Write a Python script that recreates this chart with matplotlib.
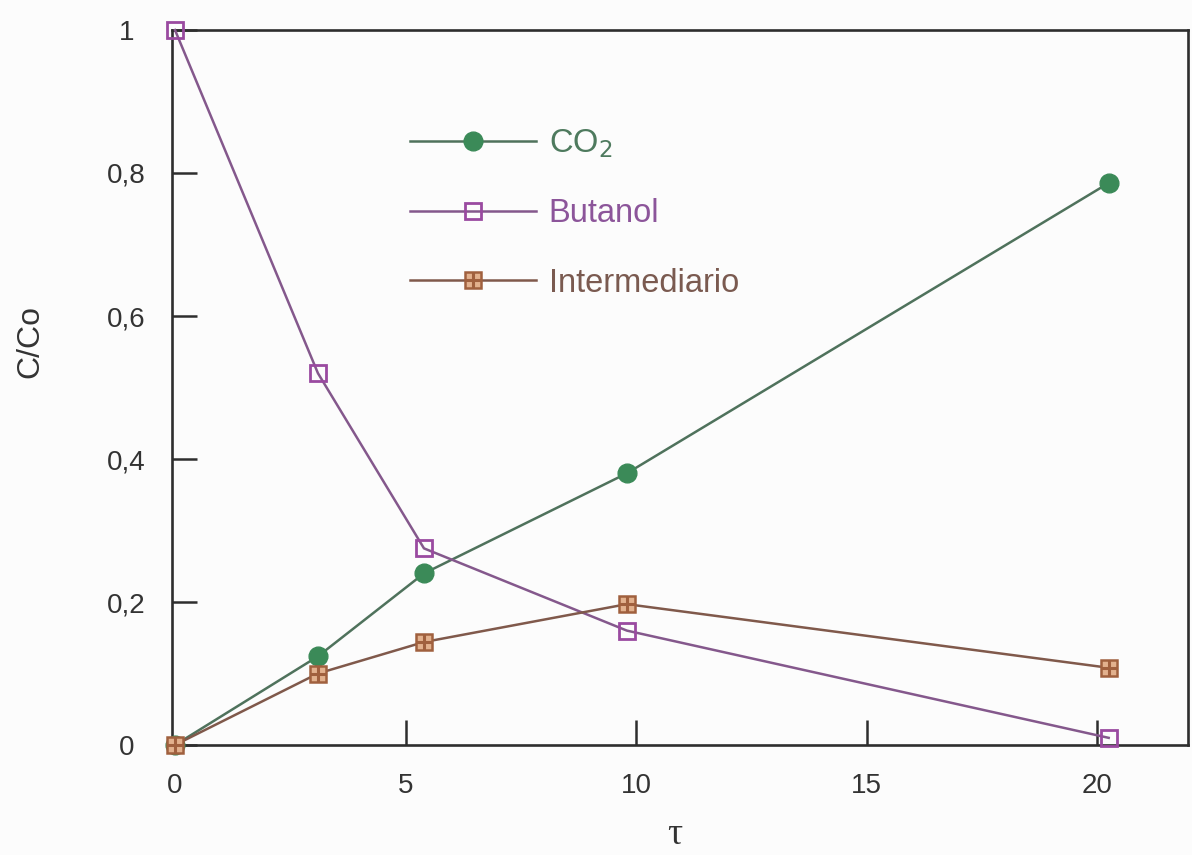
import matplotlib
matplotlib.use("Agg")
import matplotlib.pyplot as plt
from matplotlib.legend_handler import HandlerTuple

# Residence time (tau) and normalised concentrations C/Co
tau = [0.0, 3.1, 5.4, 9.8, 20.25]
co2 = [0.0, 0.124, 0.24, 0.38, 0.786]
butanol = [1.0, 0.52, 0.275, 0.16, 0.01]
intermediario = [0.0, 0.10, 0.144, 0.197, 0.108]

labels = ["CO$_2$", "Butanol", "Intermediario"]
x_ticks = [0, 5, 10, 15, 20]
y_ticks = [0, 0.2, 0.4, 0.6, 0.8, 1.0]
y_tick_labels = ["0", "0,2", "0,4", "0,6", "0,8", "1"]

plt.rcParams["font.family"] = ["Liberation Sans", "DejaVu Sans"]

W, H = 1192, 855
fig = plt.figure(figsize=(W / 100, H / 100), dpi=100, facecolor="#fcfcfc")
ax = fig.add_axes([172 / W, 1 - 745 / H, (1188 - 172) / W, (745 - 30) / H])
ax.set_facecolor("#fcfcfc")

green_line, green_mk = "#4f725c", "#3b8a58"
purple_line, purple_mk = "#84588c", "#9a4aa0"
brown_line, brown_mk = "#80594b", "#a0603e"

l_co2, = ax.plot(tau, co2, color=green_line, lw=1.8, marker="o", ms=13.5,
                 mfc=green_mk, mec=green_mk, clip_on=False, zorder=3)
l_but, = ax.plot(tau, butanol, color=purple_line, lw=1.8, marker="s", ms=12,
                 mfc="none", mec=purple_mk, mew=2.0, clip_on=False, zorder=3)
l_int, = ax.plot(tau, intermediario, color=brown_line, lw=1.8, marker="s", ms=12,
                 mfc="#e2b18e", mec=brown_mk, mew=1.8, clip_on=False, zorder=3)
# grid pattern inside the intermediate-product squares
l_int_x, = ax.plot(tau, intermediario, ls="none", marker="+", ms=12,
                   mec=brown_mk, mew=2.2, clip_on=False, zorder=4)

ax.set_xlim(-0.065, 21.97)
ax.set_ylim(0, 1.0)
ax.set_xticks(x_ticks)
ax.set_xticklabels([str(t) for t in x_ticks])
ax.set_yticks(y_ticks)
ax.set_yticklabels(y_tick_labels)

for s in ax.spines.values():
    s.set_color("#2e2e2e")
    s.set_linewidth(1.9)

ax.tick_params(axis="both", direction="in", length=18, width=1.8,
               color="#2e2e2e", labelsize=20, labelcolor="#333333")
ax.tick_params(axis="x", pad=20)
ax.tick_params(axis="y", pad=33)
for lab in ax.get_yticklabels():
    lab.set_horizontalalignment("center")
# the first x tick sits under the origin marker
ax.xaxis.get_major_ticks()[0].tick1line.set_visible(False)

ax.set_xlabel("τ", family=["Liberation Serif", "DejaVu Serif"], fontsize=27,
              color="#333333")
ax.xaxis.set_label_coords((675 - 172) / 1016, (745 - 835) / 715)
ax.xaxis.label.set_verticalalignment("center")

ax.set_ylabel("C/Co", fontsize=23, color="#333333")
ax.yaxis.set_label_coords((30 - 172) / 1016, (745 - 342) / 715)
ax.yaxis.label.set_verticalalignment("center")

leg = ax.legend([l_co2, l_but, (l_int, l_int_x)], labels,
                handler_map={tuple: HandlerTuple(ndivide=1, pad=0)},
                loc="upper left", bbox_to_anchor=((410 - 172) / 1016, (745 - 127) / 715),
                frameon=False, fontsize=23.5, handlelength=3.85, handletextpad=0.4,
                labelspacing=1.18, borderpad=0, borderaxespad=0)
for txt, c in zip(leg.get_texts(), ["#4e7a5e", "#8c559a", "#7a5a50"]):
    txt.set_color(c)

fig.savefig("out.png", dpi=100, facecolor=fig.get_facecolor())
